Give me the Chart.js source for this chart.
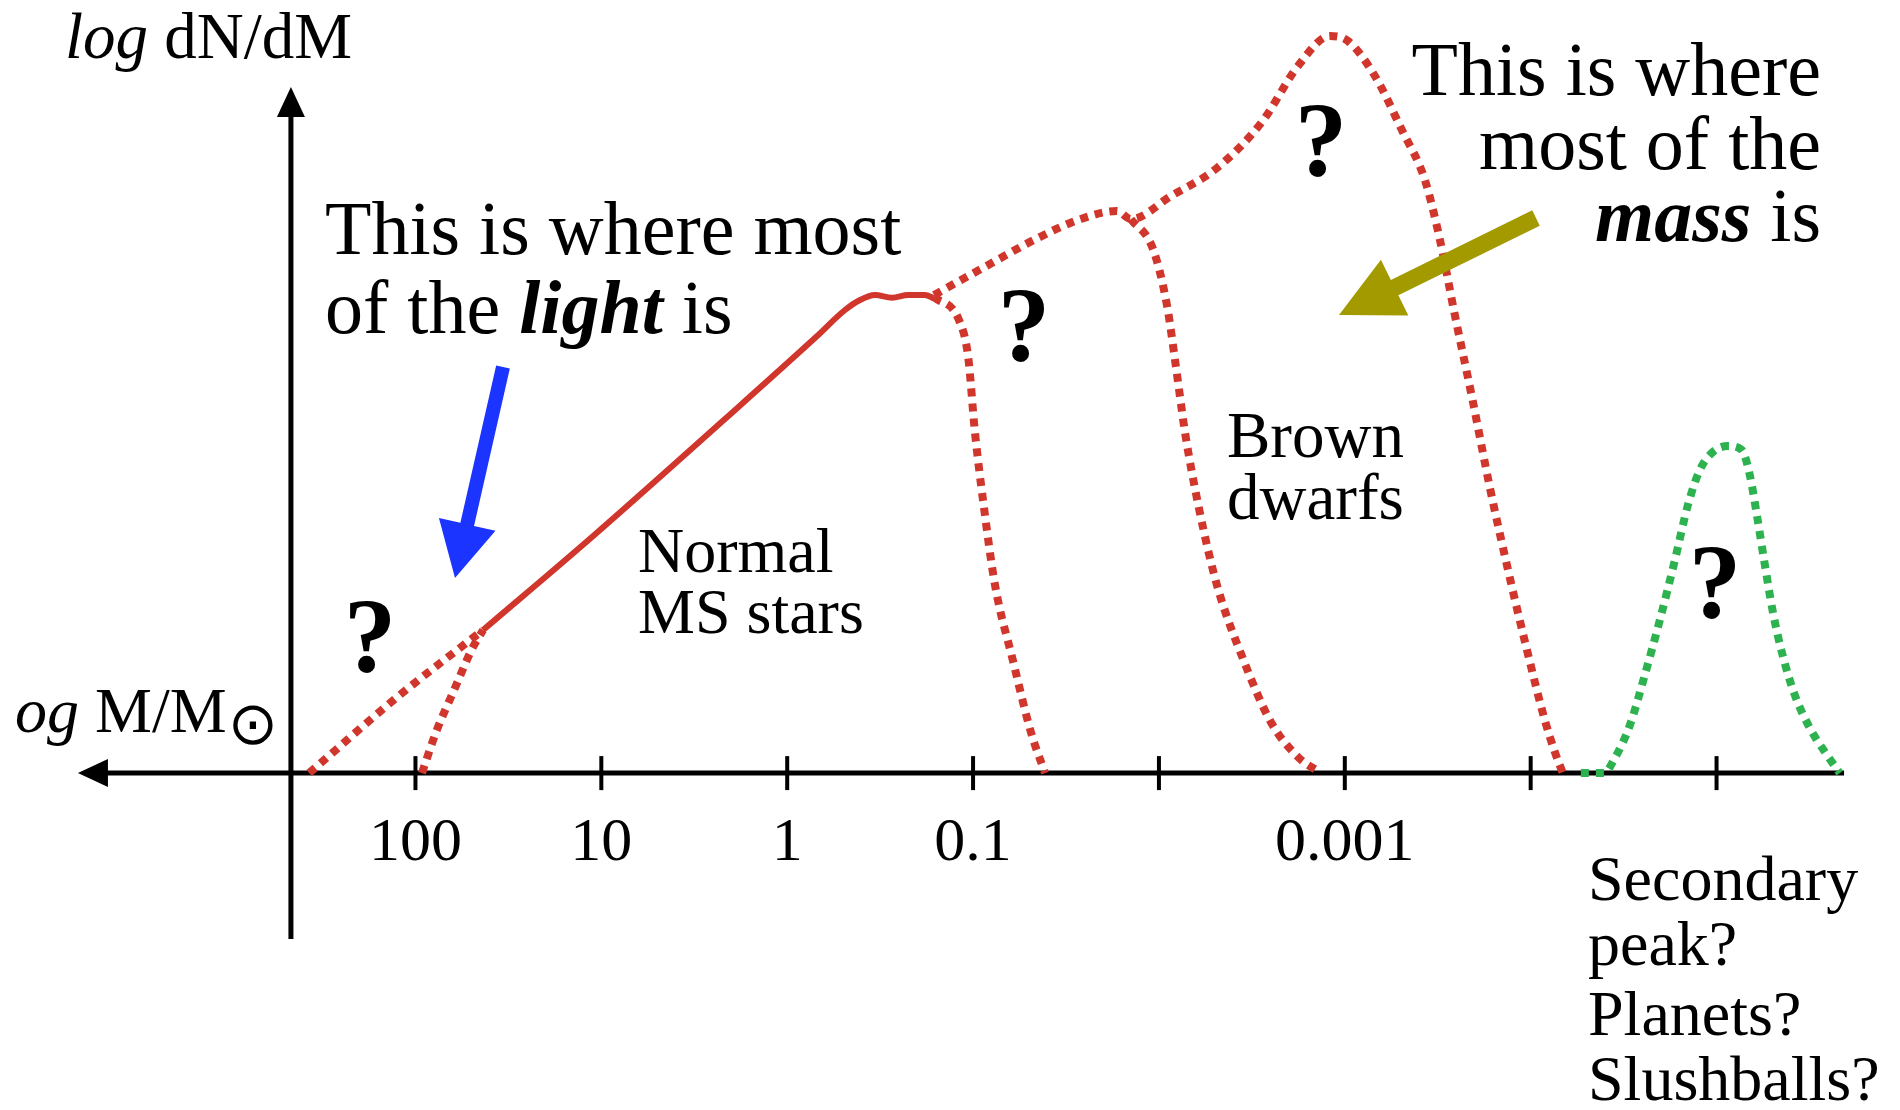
<!DOCTYPE html>
<html><head><meta charset="utf-8">
<script src="https://cdn.jsdelivr.net/npm/chart.js@4.4.1/dist/chart.umd.min.js"></script>
<style>html,body{margin:0;padding:0;background:#fff;}#wrap{width:1900px;height:1110px;position:relative;}</style>
</head><body><div id="wrap"><canvas id="c"></canvas></div>
<script>
// x = log10(M / Msun)  (axis drawn reversed: high mass on the left), y = log dN/dM (arbitrary units)
const tickLogM   = [2, 1, 0, -1, -2, -3, -4, -5];
const tickLabels = ["100", "10", "1", "0.1", "", "0.001", "", ""];

// Normal main-sequence stars (solid)
const msLogM = [1.636, 1.050, 0.329, -0.155, -0.311, -0.392, -0.472, -0.564, -0.650, -0.741, -0.790];
const msY    = [2.362, 3.897, 5.861, 7.198, 7.644, 7.809, 7.891, 7.845, 7.891, 7.891, 7.835];

// High-mass end, two possible extrapolations (dotted)
const highShallowLogM = [2.572, 2.100, 1.636];
const highShallowY    = [0, 1.250, 2.362];
const highSteepLogM   = [1.965, 1.889, 1.792, 1.696, 1.636];
const highSteepY      = [0, 0.678, 1.372, 2.048, 2.362];

// Low-mass cut-off just below the hydrogen-burning limit (dotted)
const cutLogM = [-0.790, -0.924, -0.973, -1.010, -1.059, -1.118, -1.215, -1.311, -1.387];
const cutY    = [7.858, 7.479, 6.885, 5.630, 4.376, 3.105, 1.850, 0.678, 0];

// Upper envelope continuing into brown dwarfs and the big peak (dotted)
const upperLogM = [-0.790, -1.091, -1.338, -1.580, -1.774, -1.849, -2.065, -2.312, -2.554, -2.748, -2.920, -3.017,
                   -3.162, -3.307, -3.431, -3.512, -3.592, -3.684, -3.781, -3.877, -3.980, -4.076, -4.130, -4.173];
const upperY    = [7.891, 8.403, 8.816, 9.146, 9.278, 9.146, 9.525, 9.988, 10.747, 11.671, 12.166, 12.084,
                   11.506, 10.615, 9.789, 8.799, 7.561, 6.208, 4.706, 3.369, 2.032, 0.876, 0.348, 0];

// Brown-dwarf cut-off branch (dotted)
const bdLogM = [-1.849, -1.968, -2.043, -2.091, -2.140, -2.215, -2.312, -2.457, -2.602, -2.748, -2.871];
const bdY    = [9.146, 8.651, 7.726, 6.719, 5.630, 4.376, 3.105, 1.850, 0.843, 0.266, 0];

// Secondary peak (planets?) (green dotted)
const secLogM = [-4.270, -4.394, -4.453, -4.534, -4.614, -4.695, -4.776, -4.846, -4.910, -4.980, -5.061,
                 -5.136, -5.179, -5.217, -5.260, -5.303, -5.351, -5.421, -5.502, -5.583, -5.663];
const secY    = [0, 0, 0.249, 0.794, 1.619, 2.527, 3.517, 4.425, 5.003, 5.300, 5.399,
                 5.333, 4.920, 4.260, 3.435, 2.659, 1.999, 1.289, 0.744, 0.348, 0];

// axis geometry in data units
const AXIS = { yAxisAt: 2.670, xLeft: 3.816, xRight: -5.686, yTop: 11.325, yBottom: -2.738 };

const RED = '#d0362c', GREEN = '#2db24f', BLUE = '#1c34ff', OLIVE = '#a39a00';
const SERIF = '"Liberation Serif", "Times New Roman", serif';

function series(xs, ys) { return xs.map((v, i) => ({ x: v, y: ys[i] })); }
function dotted(xs, ys, color) {
  return { data: series(xs, ys), borderColor: color, borderWidth: 8, borderDash: [8, 7],
           showLine: true, cubicInterpolationMode: 'monotone', pointRadius: 0, fill: false };
}

// annotation text (pixel layout)
const texts = [
  { x: 65, y: 58, align: 'left', runs: [['log', 'italic 65px'], [' dN/dM', '65px']] },
  { x: 15, y: 732, align: 'left', runs: [['og', 'italic 64px'], [' M/M', '64px']] },
  { x: 325, y: 254, align: 'left', runs: [['This is where most', '76px']] },
  { x: 325, y: 333, align: 'left', runs: [['of the ', '76px'], ['light', 'bold italic 76px'], [' is', '76px']] },
  { x: 1821, y: 95, align: 'right', runs: [['This is where', '76px']] },
  { x: 1821, y: 169, align: 'right', runs: [['most of the', '76px']] },
  { x: 1821, y: 241, align: 'right', runs: [['mass', 'bold italic 76px'], [' is', '76px']] },
  { x: 638, y: 572, align: 'left', runs: [['Normal', '64px']] },
  { x: 638, y: 633, align: 'left', runs: [['MS stars', '64px']] },
  { x: 1227, y: 457, align: 'left', runs: [['Brown', '65px']] },
  { x: 1227, y: 519, align: 'left', runs: [['dwarfs', '65px']] },
  { x: 1588, y: 900, align: 'left', runs: [['Secondary', '64px']] },
  { x: 1588, y: 965, align: 'left', runs: [['peak?', '64px']] },
  { x: 1588, y: 1035, align: 'left', runs: [['Planets?', '64px']] },
  { x: 1588, y: 1100, align: 'left', runs: [['Slushballs?', '64px']] },
  { x: 370, y: 672, align: 'center', runs: [['?', 'bold 105px']] },
  { x: 1024, y: 361, align: 'center', runs: [['?', 'bold 105px']] },
  { x: 1321, y: 176, align: 'center', runs: [['?', 'bold 105px']] },
  { x: 1715, y: 618, align: 'center', runs: [['?', 'bold 105px']] }
];
const arrows = [
  { from: [503, 367], to: [455, 578], shaft: 14, headLen: 55, headW: 58, color: BLUE },
  { from: [1536, 218], to: [1339, 315], shaft: 17, headLen: 62, headW: 62, color: OLIVE }
];

function drawRuns(ctx, t) {
  let total = 0;
  const ws = t.runs.map(r => { ctx.font = r[1] + ' ' + SERIF; const w = ctx.measureText(r[0]).width; total += w; return w; });
  let x = t.align === 'right' ? t.x - total : t.align === 'center' ? t.x - total / 2 : t.x;
  ctx.textAlign = 'left'; ctx.textBaseline = 'alphabetic';
  t.runs.forEach((r, i) => { ctx.font = r[1] + ' ' + SERIF; ctx.fillText(r[0], x, t.y); x += ws[i]; });
}
function drawArrow(ctx, a) {
  const [x1, y1] = a.from, [x2, y2] = a.to;
  const dx = x2 - x1, dy = y2 - y1, L = Math.hypot(dx, dy), ux = dx / L, uy = dy / L, nx = -uy, ny = ux;
  const bx = x2 - ux * a.headLen, by = y2 - uy * a.headLen;
  ctx.fillStyle = a.color;
  ctx.beginPath();
  ctx.moveTo(x1 + nx * a.shaft / 2, y1 + ny * a.shaft / 2);
  ctx.lineTo(bx + nx * a.shaft / 2, by + ny * a.shaft / 2);
  ctx.lineTo(bx + nx * a.headW / 2, by + ny * a.headW / 2);
  ctx.lineTo(x2, y2);
  ctx.lineTo(bx - nx * a.headW / 2, by - ny * a.headW / 2);
  ctx.lineTo(bx - nx * a.shaft / 2, by - ny * a.shaft / 2);
  ctx.lineTo(x1 - nx * a.shaft / 2, y1 - ny * a.shaft / 2);
  ctx.closePath(); ctx.fill();
}

const deco = {
  id: 'deco',
  beforeDatasetsDraw(chart) {
    const { ctx, scales: { x, y } } = chart;
    const y0 = y.getPixelForValue(0), xa = x.getPixelForValue(AXIS.yAxisAt);
    const xl = x.getPixelForValue(AXIS.xLeft), xr = x.getPixelForValue(AXIS.xRight);
    const yt = y.getPixelForValue(AXIS.yTop), yb = y.getPixelForValue(AXIS.yBottom);
    ctx.save();
    ctx.strokeStyle = '#000'; ctx.fillStyle = '#000'; ctx.lineWidth = 5; ctx.lineCap = 'butt';
    ctx.beginPath(); ctx.moveTo(xl + 20, y0); ctx.lineTo(xr, y0); ctx.stroke();
    ctx.beginPath(); ctx.moveTo(xl, y0); ctx.lineTo(xl + 30, y0 - 14); ctx.lineTo(xl + 30, y0 + 14); ctx.closePath(); ctx.fill();
    ctx.beginPath(); ctx.moveTo(xa, yb); ctx.lineTo(xa, yt + 20); ctx.stroke();
    ctx.beginPath(); ctx.moveTo(xa, yt); ctx.lineTo(xa - 14, yt + 30); ctx.lineTo(xa + 14, yt + 30); ctx.closePath(); ctx.fill();
    ctx.lineWidth = 4;
    tickLogM.forEach(v => { const px = x.getPixelForValue(v); ctx.beginPath(); ctx.moveTo(px, y0 - 17); ctx.lineTo(px, y0 + 17); ctx.stroke(); });
    ctx.font = '62px ' + SERIF; ctx.textAlign = 'center'; ctx.textBaseline = 'alphabetic';
    tickLabels.forEach((t, i) => { if (t) ctx.fillText(t, x.getPixelForValue(tickLogM[i]), y0 + 87); });
    ctx.restore();
  },
  afterDatasetsDraw(chart) {
    const ctx = chart.ctx;
    ctx.save();
    ctx.fillStyle = '#000';
    texts.forEach(t => drawRuns(ctx, t));
    ctx.font = '60px "DejaVu Sans"'; ctx.textAlign = 'center'; ctx.textBaseline = 'middle';
    ctx.fillText('\u2299', 253, 728);
    arrows.forEach(a => drawArrow(ctx, a));
    ctx.restore();
  }
};

new Chart(document.getElementById('c'), {
  type: 'scatter',
  data: {
    datasets: [
      dotted(highShallowLogM, highShallowY, RED),
      dotted(highSteepLogM, highSteepY, RED),
      dotted(cutLogM, cutY, RED),
      dotted(upperLogM, upperY, RED),
      dotted(bdLogM, bdY, RED),
      dotted(secLogM, secY, GREEN),
      { data: series(msLogM, msY), borderColor: RED, borderWidth: 6, showLine: true,
        cubicInterpolationMode: 'monotone', pointRadius: 0, fill: false }
    ]
  },
  options: {
    responsive: true, maintainAspectRatio: false, animation: false, events: [],
    layout: { padding: 0 },
    plugins: { legend: { display: false }, tooltip: { enabled: false } },
    scales: {
      x: { type: 'linear', reverse: true, min: -5.987, max: 4.2352, display: false },
      y: { type: 'linear', min: -5.561, max: 12.761, display: false }
    }
  },
  plugins: [deco]
});
</script></body></html>
